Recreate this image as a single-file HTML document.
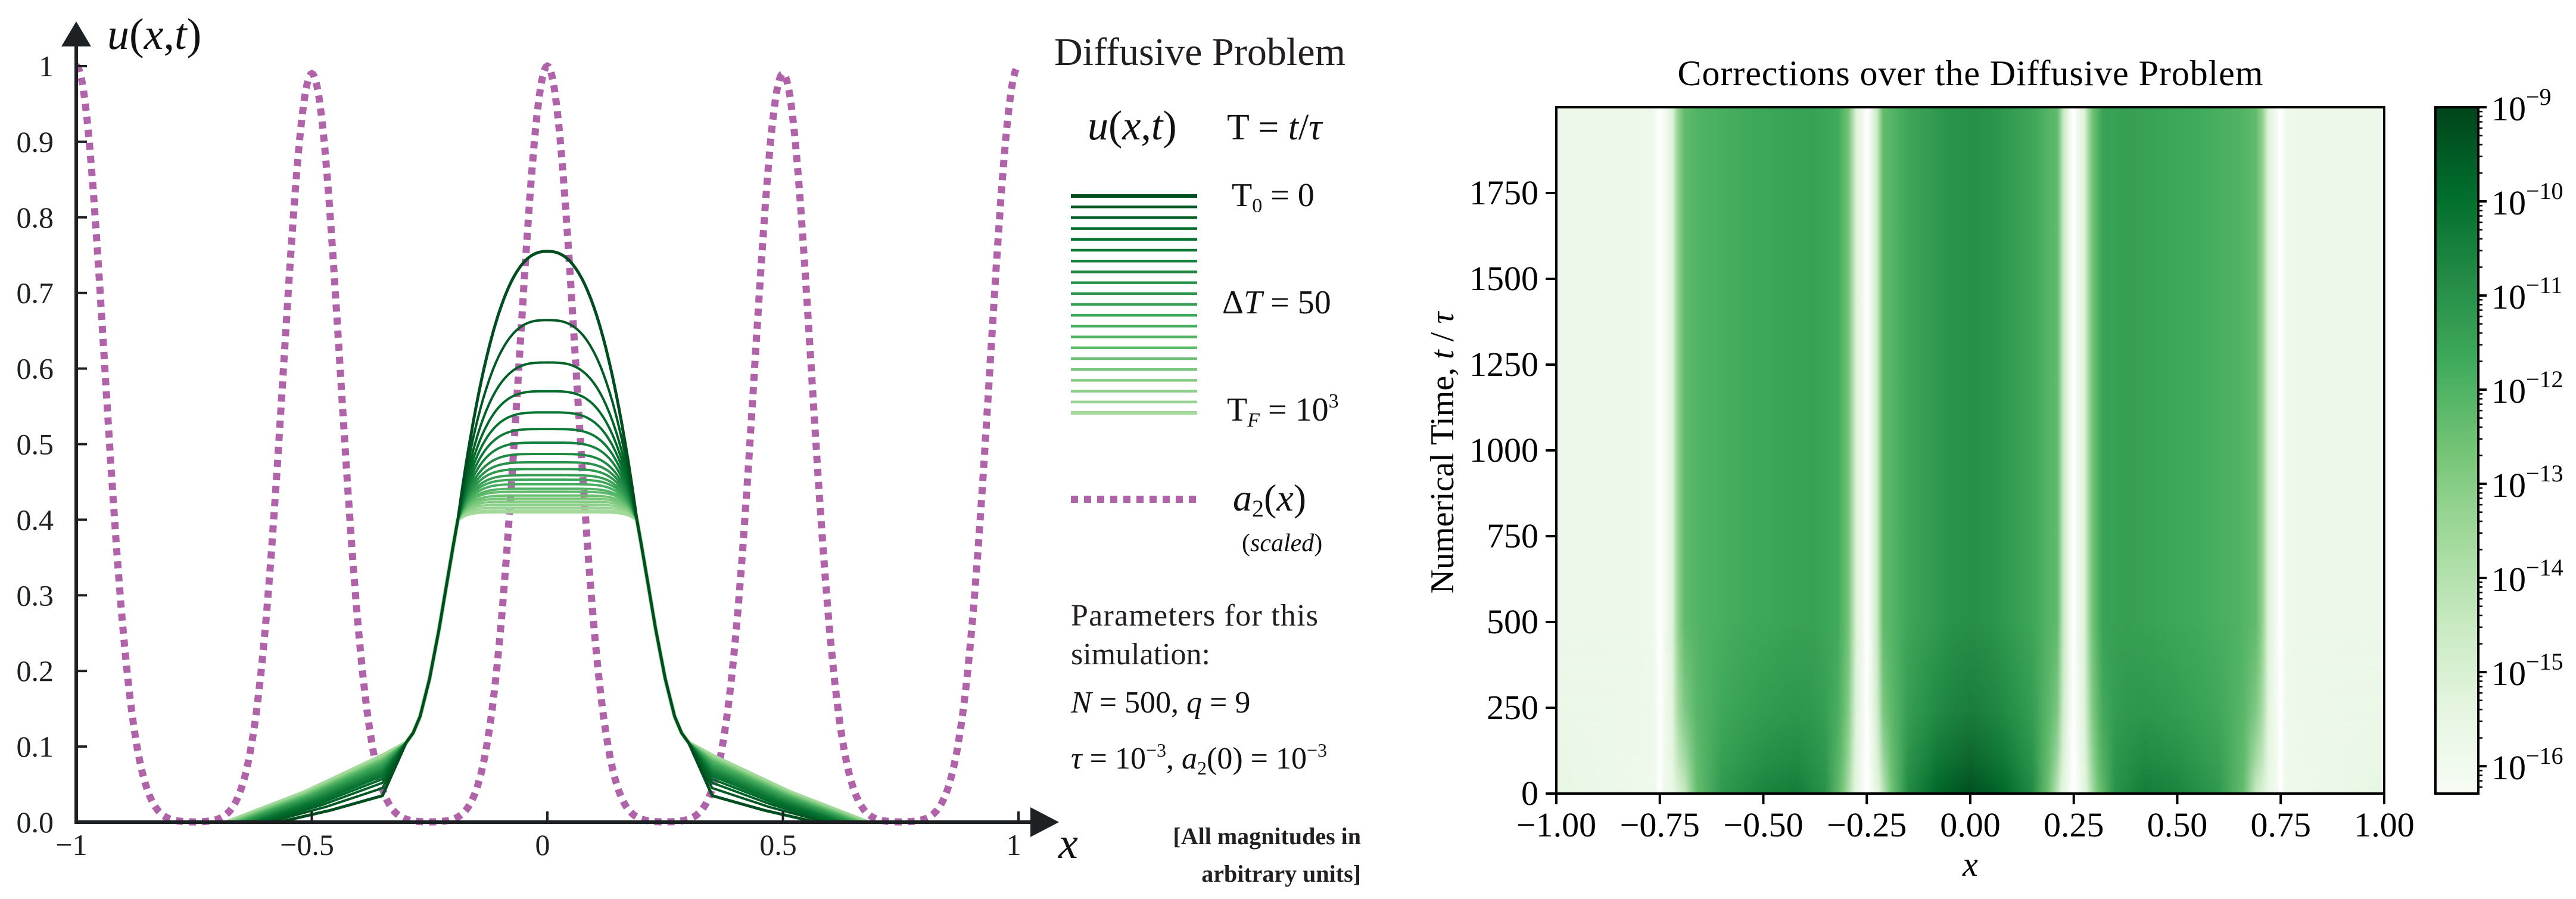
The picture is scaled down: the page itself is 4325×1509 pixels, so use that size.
<!DOCTYPE html>
<html><head><meta charset="utf-8"><style>
html,body{margin:0;padding:0;background:#fff;}
svg{display:block;}
svg text, svg tspan{font-family:"Liberation Serif","Times New Roman",Times,serif;}
</style></head><body>
<svg id="fig" width="4325" height="1509" viewBox="0 0 4325 1509" xmlns="http://www.w3.org/2000/svg" font-family="Liberation Serif, Times New Roman, serif">
<defs>
<linearGradient id="heatGrad" x1="0" y1="0" x2="1" y2="0"></linearGradient>
<linearGradient id="bottomGrad" x1="0" y1="0" x2="1" y2="0"></linearGradient>
<linearGradient id="fadeGrad" x1="0" y1="1" x2="0" y2="0">
<stop offset="0" stop-color="#fff" stop-opacity="1"/>
<stop offset="0.05" stop-color="#fff" stop-opacity="0.65"/>
<stop offset="0.12" stop-color="#fff" stop-opacity="0.3"/>
<stop offset="0.25" stop-color="#fff" stop-opacity="0"/>
<stop offset="1" stop-color="#fff" stop-opacity="0"/>
</linearGradient>
<mask id="fadeMask"><rect x="2613" y="180" width="1390" height="1152" fill="url(#fadeGrad)"/></mask>
<linearGradient id="cbarGrad" x1="0" y1="1" x2="0" y2="0"></linearGradient>
</defs>
<g id="left"></g>
<g id="legend">
<text x="1770" y="109" font-size="66" textLength="489" fill="#231f20">Diffusive Problem</text>
<text x="1826" y="234" font-size="70" font-style="italic" fill="#111">u<tspan font-style="normal">(</tspan>x<tspan font-style="normal">,</tspan>t<tspan font-style="normal">)</tspan></text>
<text x="2060" y="234" font-size="62" fill="#111">T = <tspan font-style="italic">t</tspan>/<tspan font-style="italic">τ</tspan></text>
<text x="2068" y="346" font-size="56" fill="#111">T<tspan font-size="34" dy="10">0</tspan><tspan dy="-10"> = 0</tspan></text>
<text x="2052" y="526" font-size="56" fill="#111">Δ<tspan font-style="italic">T</tspan> = 50</text>
<text x="2060" y="706" font-size="56" fill="#111">T<tspan font-size="34" dy="10" font-style="italic">F</tspan><tspan dy="-10"> = 10</tspan><tspan font-size="34" dy="-22">3</tspan></text>
<line x1="1798" y1="838" x2="2010" y2="838" stroke="#b063a9" stroke-width="12" stroke-dasharray="12 10"/>
<text x="2070" y="857" font-size="64" fill="#111"><tspan font-style="italic">a</tspan><tspan font-size="40" dy="10">2</tspan><tspan dy="-10">(</tspan><tspan font-style="italic">x</tspan>)</text>
<text x="2085" y="925" font-size="42" fill="#111">(<tspan font-style="italic">scaled</tspan>)</text>
<text x="1798" y="1050" font-size="52" fill="#231f20" textLength="415">Parameters for this</text>
<text x="1798" y="1115" font-size="52" fill="#231f20">simulation:</text>
<text x="1798" y="1196" font-size="52" fill="#111"><tspan font-style="italic">N</tspan> = 500,  <tspan font-style="italic">q</tspan> = 9</text>
<text x="1798" y="1290" font-size="52" fill="#111"><tspan font-style="italic">τ</tspan> = 10<tspan font-size="32" dy="-20">−3</tspan><tspan dy="20">,  </tspan><tspan font-style="italic">a</tspan><tspan font-size="32" dy="10">2</tspan><tspan dy="-10">(0) = 10</tspan><tspan font-size="32" dy="-20">−3</tspan></text>
<text x="2285" y="1417" font-size="40" font-weight="bold" text-anchor="end" fill="#231f20">[All magnitudes in</text>
<text x="2285" y="1480" font-size="40" font-weight="bold" text-anchor="end" fill="#231f20">arbitrary units]</text>
</g>
<g id="right"></g>
</svg>
<script>
// ---------- Left chart data ----------
const xTicks = [-1, -0.5, 0, 0.5, 1];
const xTickLabels = ["−1", "−0.5", "0", "0.5", "1"];
const yTicks = [0, 0.1, 0.2, 0.3, 0.4, 0.5, 0.6, 0.7, 0.8, 0.9, 1];
const yTickLabels = ["0.0","0.1","0.2","0.3","0.4","0.5","0.6","0.7","0.8","0.9","1"];
const curveTimes = [0,50,100,150,200,250,300,350,400,450,500,550,600,650,700,750,800,850,900,950,1000];
const curvePeaks = [0.755,0.664,0.608,0.570,0.542,0.520,0.502,0.487,0.476,0.467,0.459,0.453,0.447,0.441,0.437,0.432,0.428,0.424,0.420,0.416,0.411];
const curveSharpness = [2.4,2.8,3.1,3.4,3.7,4.0,4.3,4.6,4.9,5.2,5.5,5.8,6.1,6.5,6.9,7.3,7.7,8.2,8.7,9.3,10];
const curveTailHeights = [0.035,0.045,0.052,0.057,0.061,0.064,0.067,0.069,0.071,0.073,0.075,0.077,0.078,0.080,0.081,0.082,0.083,0.084,0.085,0.086,0.088];
const curveTailEnds = [0.57,0.59,0.60,0.61,0.62,0.625,0.63,0.635,0.64,0.645,0.65,0.653,0.656,0.659,0.662,0.665,0.668,0.671,0.674,0.677,0.68];
const flankX = [0.19,0.20,0.215,0.23,0.25,0.27,0.285,0.30];
const flankY = [0.40,0.365,0.31,0.255,0.19,0.14,0.118,0.105];
const a2Centers = [-1,-0.5,0,0.5,1];
const a2Amplitudes = [1,0.99,1,0.99,1];
const a2Width = [0.085];

// ---------- Right chart data ----------
const heatX = [-1,-0.80,-0.765,-0.75,-0.735,-0.72,-0.705,-0.69,-0.65,-0.55,-0.45,-0.38,-0.32,-0.295,-0.275,-0.26,-0.25,-0.24,-0.225,-0.21,-0.15,-0.05,0,0.05,0.15,0.21,0.225,0.24,0.25,0.26,0.275,0.295,0.32,0.38,0.45,0.55,0.65,0.69,0.705,0.72,0.735,0.75,0.765,0.80,1];
const heatLog = [-15.8,-15.8,-15.9,-17,-15.9,-15.2,-13.2,-12.3,-12.0,-11.7,-11.5,-11.45,-11.7,-12.6,-15.2,-15.9,-17,-15.9,-14.5,-12.3,-11.6,-11.05,-10.95,-11.05,-11.6,-12.3,-14.5,-15.9,-17,-15.9,-15.2,-12.6,-11.5,-11.4,-11.5,-11.7,-12.0,-12.3,-13.2,-15.2,-15.9,-17,-15.9,-15.8,-15.8];
const bottomX = [-1,-0.76,-0.75,-0.74,-0.72,-0.69,-0.66,-0.6,-0.5,-0.42,-0.35,-0.31,-0.28,-0.25,-0.22,-0.19,-0.15,-0.08,0,0.08,0.15,0.19,0.22,0.25,0.28,0.31,0.35,0.42,0.5,0.6,0.66,0.69,0.72,0.74,0.75,0.76,1];
const bottomLog = [-15.5,-15.9,-17,-15.9,-15.6,-14.5,-12.4,-11.2,-10.6,-10.4,-11.0,-12.6,-15.2,-17,-15.2,-12.6,-10.8,-9.8,-9.25,-9.8,-10.8,-12.6,-15.2,-17,-15.2,-12.6,-11.0,-10.4,-10.6,-11.2,-12.4,-14.5,-15.6,-15.9,-17,-15.9,-15.5];
const heatXTicks = [-1,-0.75,-0.5,-0.25,0,0.25,0.5,0.75,1];
const heatXTickLabels = ["−1.00","−0.75","−0.50","−0.25","0.00","0.25","0.50","0.75","1.00"];
const heatYTicks = [0,250,500,750,1000,1250,1500,1750];
const heatYTickLabels = ["0","250","500","750","1000","1250","1500","1750"];
const cbarDecades = [-9,-10,-11,-12,-13,-14,-15,-16];
const cbarDecadeLabels = ["−9","−10","−11","−12","−13","−14","−15","−16"];
const cbarRange = [-16.29,-9];
const heatTimeRange = [0,2000];

const NS = "http://www.w3.org/2000/svg";
const FONT = "Liberation Serif, Times New Roman, serif";
function mk(tag, attrs, parent){const e=document.createElementNS(NS,tag);for(const k in attrs)e.setAttribute(k,attrs[k]);if(tag==='text')e.setAttribute('font-family',FONT);parent.appendChild(e);return e;}

// ---------- Left chart ----------
const L = document.getElementById('left');
const sx = x => 128 + (x + 1) * 791;
const sy = v => 1380 - 1269 * v;
const greens = [[0,"#f7fcf5"],[0.125,"#e5f5e0"],[0.25,"#c7e9c0"],[0.375,"#a1d99b"],[0.5,"#74c476"],[0.625,"#41ab5d"],[0.75,"#238b45"],[0.875,"#006d2c"],[1,"#00441b"]];
function hex2rgb(h){return [parseInt(h.slice(1,3),16),parseInt(h.slice(3,5),16),parseInt(h.slice(5,7),16)];}
function cmap(v){
  if(v<0) return "#ffffff";
  v=Math.min(1,v);
  for(let i=1;i<greens.length;i++){
    if(v<=greens[i][0]){const a=greens[i-1],b=greens[i];const f=(v-a[0])/(b[0]-a[0]);const c1=hex2rgb(a[1]),c2=hex2rgb(b[1]);
      return "rgb("+c1.map((c,j)=>Math.round(c+(c2[j]-c)*f)).join(",")+")";}
  }
  return greens[greens.length-1][1];
}

{
  const pts=[];
  for(let i=0;i<=800;i++){const x=-1+i*2/800;let v=0;
    a2Centers.forEach((c,k)=>{v+=a2Amplitudes[k]*Math.exp(-Math.pow((x-c)/a2Width[0],2));});
    pts.push(sx(x).toFixed(1)+","+sy(Math.min(v,1)).toFixed(1));}
  const p=mk('polyline',{points:pts.join(" "),fill:"none",stroke:"#b063a9","stroke-width":12,"stroke-dasharray":"12 10"},L);
  
  
}
const nC = curvePeaks.length;
for(let idx=nC-1; idx>=0; idx--){
  const P=curvePeaks[idx], k=curveSharpness[idx], th=curveTailHeights[idx], te=curveTailEnds[idx];
  const half=[];
  for(let i=0;i<=40;i++){const x=0.19*i/40;half.push([x, P-(P-0.40)*Math.pow(x/0.19,k)]);}
  for(let i=1;i<flankX.length;i++) half.push([flankX[i],flankY[i]]);
  half.push([0.35,th]);
  half.push([(0.35+te)/2, th*0.45]);
  half.push([te,0]);
  const full=half.slice().reverse().map(p=>[-p[0],p[1]]).concat(half.slice(1));
  const frac = idx/(nC-1);
  const col = cmap(0.97 - frac*0.6);
  const pl=mk('polyline',{points:full.map(p=>sx(p[0]).toFixed(1)+","+sy(p[1]).toFixed(1)).join(" "),fill:"none",stroke:col,"stroke-width":idx===nC-1?7:(idx===0?5:4),"stroke-linejoin":"round"},L);
  
  
  const ly = 329 + idx*(693-329)/(nC-1);
  const ll=mk('line',{x1:1798,x2:2010,y1:ly.toFixed(1),y2:ly.toFixed(1),stroke:col,"stroke-width":idx===nC-1?6:(idx===0?6:4.5)},document.getElementById('legend'));
  
  
}
{
  const ya=mk('line',{x1:128,y1:1383,x2:128,y2:75,stroke:"#1d2124","stroke-width":6},L);
  
  
  const yarr=mk('polygon',{points:"103,78 153,78 128,36",fill:"#1d2124"},L);
  
  
  const xa=mk('line',{x1:125,y1:1380,x2:1735,y2:1380,stroke:"#1d2124","stroke-width":6},L);
  
  
  const xarr=mk('polygon',{points:"1730,1355 1730,1405 1778,1380",fill:"#1d2124"},L);
  
  
  const ul=mk('text',{x:180,y:82,"font-size":74,"font-style":"italic",fill:"#111"},L);
  ul.innerHTML='u<tspan font-style="normal">(</tspan>x<tspan font-style="normal">,</tspan>t<tspan font-style="normal">)</tspan>';
  
  
  const xl=mk('text',{x:1777,y:1440,"font-size":74,"font-style":"italic",fill:"#111"},L);
  xl.textContent='x';
  
  
}
yTicks.forEach((v,i)=>{
  const t=mk('line',{x1:128,x2:146,y1:sy(v),y2:sy(v),stroke:"#1d2124","stroke-width":4},L);
  
  
  const tx=mk('text',{x:90,y:sy(v)+17,"font-size":50,"text-anchor":"end",fill:"#1d2124"},L);
  tx.textContent=yTickLabels[i];
  
  
});
xTicks.forEach((v,i)=>{
  if(v>-1){const t=mk('line',{x1:sx(v),x2:sx(v),y1:1380,y2:1362,stroke:"#1d2124","stroke-width":4},L);
  
  }
  const tx=mk('text',{x:sx(v)-8,y:1435,"font-size":50,"text-anchor":"middle",fill:"#1d2124"},L);
  tx.textContent=xTickLabels[i];
  
  
});

// ---------- Right chart ----------
const R=document.getElementById('right');
const HX0=2613, HX1=4003, HY0=180, HY1=1332;
const hx = x => HX0 + (x+1)/2*(HX1-HX0);
const hy = t => HY1 - (t-heatTimeRange[0])/(heatTimeRange[1]-heatTimeRange[0])*(HY1-HY0);
const lnorm = l => (l-cbarRange[0])/(cbarRange[1]-cbarRange[0]);
function fillGrad(id, xs, ls){const g=document.getElementById(id);xs.forEach((x,i)=>{mk('stop',{offset:((x+1)/2).toFixed(4),"stop-color":cmap(lnorm(ls[i]))},g);});}
fillGrad('heatGrad',heatX,heatLog);
fillGrad('bottomGrad',bottomX,bottomLog);
{
  const r1=mk('rect',{x:HX0,y:HY0,width:HX1-HX0,height:HY1-HY0,fill:"url(#heatGrad)"},R);
  
  
  const r2=mk('rect',{x:HX0,y:HY0,width:HX1-HX0,height:HY1-HY0,fill:"url(#bottomGrad)",mask:"url(#fadeMask)"},R);
  
  
  const fr=mk('rect',{x:HX0,y:HY0,width:HX1-HX0,height:HY1-HY0,fill:"none",stroke:"#000","stroke-width":4},R);
  
  
  const ti=mk('text',{x:3308,y:143,"font-size":60,"text-anchor":"middle",fill:"#000",textLength:983},R);
  ti.textContent='Corrections over the Diffusive Problem';
  
  
  const xt=mk('text',{x:3308,y:1470,"font-size":58,"font-style":"italic","text-anchor":"middle",fill:"#000"},R);
  xt.textContent='x';
  
  
  const yt=mk('text',{x:0,y:0,"font-size":56,"text-anchor":"middle",fill:"#000",transform:"translate(2440,760) rotate(-90)"},R);
  yt.innerHTML='Numerical Time, <tspan font-style="italic">t</tspan> / <tspan font-style="italic">τ</tspan>';
  
  
}
heatXTicks.forEach((v,i)=>{
  const t=mk('line',{x1:hx(v),x2:hx(v),y1:HY1,y2:HY1+18,stroke:"#000","stroke-width":4},R);
  
  
  const tx=mk('text',{x:hx(v),y:HY1+72,"font-size":58,"text-anchor":"middle",fill:"#000"},R);
  tx.textContent=heatXTickLabels[i];
  
  
});
heatYTicks.forEach((v,i)=>{
  const t=mk('line',{x1:HX0-18,x2:HX0,y1:hy(v),y2:hy(v),stroke:"#000","stroke-width":4},R);
  
  
  const tx=mk('text',{x:HX0-30,y:hy(v)+19,"font-size":58,"text-anchor":"end",fill:"#000"},R);
  tx.textContent=heatYTickLabels[i];
  
  
});
const CX0=4089, CX1=4161;
const cy = l => HY1 - lnorm(l)*(HY1-HY0);
{
  const g=document.getElementById('cbarGrad');
  for(let i=0;i<=16;i++){mk('stop',{offset:(i/16).toFixed(4),"stop-color":cmap(i/16)},g);}
  const cb=mk('rect',{x:CX0,y:HY0,width:CX1-CX0,height:HY1-HY0,fill:"url(#cbarGrad)",stroke:"#000","stroke-width":4},R);
  
  
}
cbarDecades.forEach((d,i)=>{
  const t=mk('line',{x1:CX1,x2:CX1+14,y1:cy(d),y2:cy(d),stroke:"#000","stroke-width":4},R);
  
  
  for(let m=2;m<=9;m++){const l=d-1+Math.log10(m);if(l<cbarRange[0])continue;
    const mt=mk('line',{x1:CX1,x2:CX1+7,y1:cy(l),y2:cy(l),stroke:"#000","stroke-width":2.5},R);
    
    }
  const tx=mk('text',{x:4183,y:cy(d)+22,"font-size":58,fill:"#000"},R);
  tx.innerHTML='10<tspan font-size="40" dy="-26">'+cbarDecadeLabels[i]+'</tspan>';
  
  
});
</script>
</body></html>
